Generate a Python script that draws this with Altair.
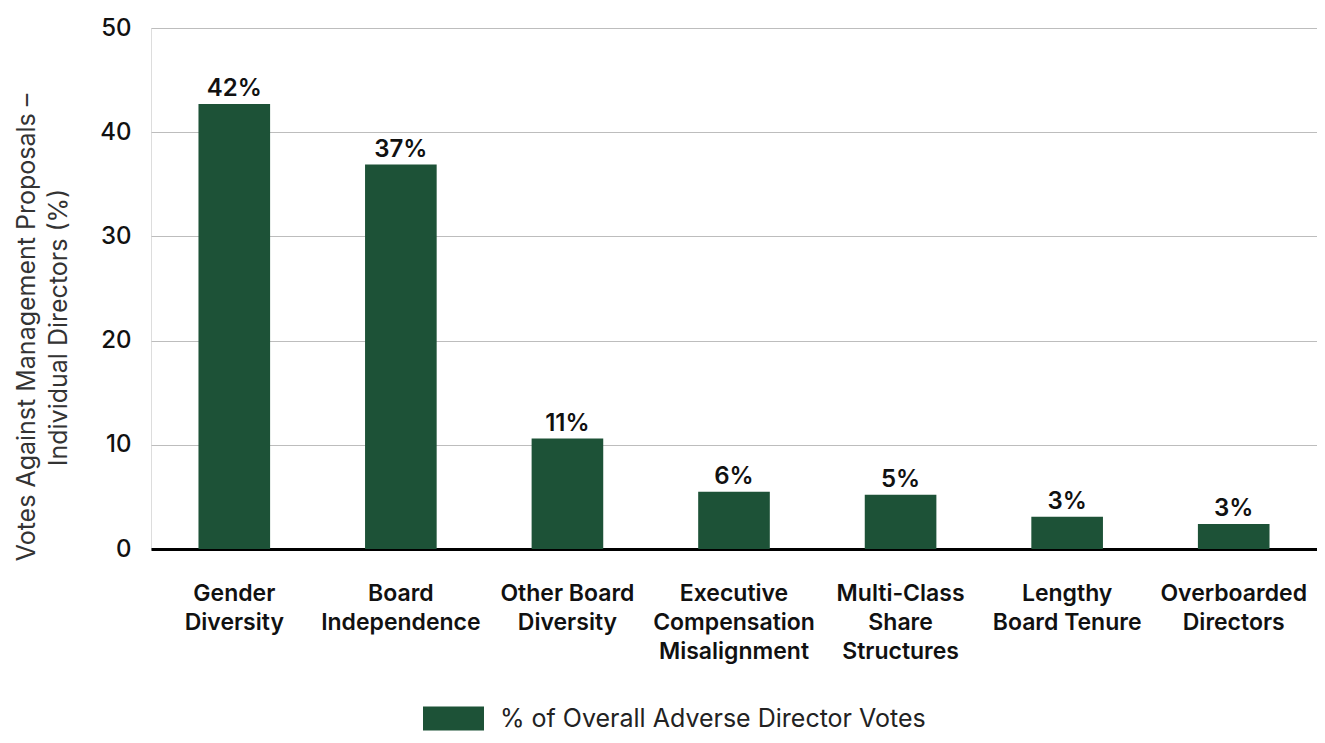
import altair as alt
import pandas as pd

# ---- data ----
label_lines = [
    ["Gender", "Diversity"],
    ["Board", "Independence"],
    ["Other Board", "Diversity"],
    ["Executive", "Compensation", "Misalignment"],
    ["Multi-Class", "Share", "Structures"],
    ["Lengthy", "Board Tenure"],
    ["Overboarded", "Directors"],
]
values = [42.7, 36.9, 10.6, 5.5, 5.2, 3.1, 2.4]
value_labels = ["42%", "37%", "11%", "6%", "5%", "3%", "3%"]
series_name = "% of Overall Adverse Director Votes"
y_ticks = [0, 10, 20, 30, 40, 50]
y_title = ["Votes Against Management Proposals \u2013", "Individual Directors (%)"]

GREEN = "#1d5237"
FONT = "Inter"

categories = ["|".join(l) for l in label_lines]
df = pd.DataFrame({
    "category": categories,
    "value": values,
    "label": value_labels,
    "series": [series_name] * len(categories),
})

x_enc = alt.X(
    "category:N",
    sort=categories,
    scale=alt.Scale(paddingInner=0.57, paddingOuter=0.285),
    axis=alt.Axis(
        title=None,
        labelExpr="split(datum.label, '|')",
        labelAngle=0,
        labelFont=FONT,
        labelFontSize=23,
        labelFontWeight=600,
        labelColor="#111111",
        labelLineHeight=29,
        labelPadding=33,
        labelBaseline="top",
        labelLimit=400,
        ticks=False,
        domain=True,
        domainColor="#000000",
        domainWidth=3,
        grid=False,
    ),
)

y_enc = alt.Y(
    "value:Q",
    scale=alt.Scale(domain=[0, 50], nice=False),
    axis=alt.Axis(
        values=y_ticks,
        grid=True,
        gridColor="#bdbdbd",
        gridWidth=1,
        domain=False,
        ticks=False,
        labelPadding=20,
        labelFont=FONT,
        labelFontSize=24,
        labelFontWeight=500,
        labelColor="#111111",
        title=y_title,
        titleFont=FONT,
        titleFontSize=25,
        titleFontWeight="normal",
        titleColor="#333333",
        titleAngle=270,
        titleAlign="center",
        titleBaseline="top",
        titleLineHeight=32,
        titleX=-137,
        titleY=299,
    ),
)

bars = alt.Chart(df).mark_bar(color=GREEN).encode(
    x=x_enc,
    y=y_enc,
    color=alt.Color(
        "series:N",
        scale=alt.Scale(domain=[series_name], range=[GREEN]),
        legend=alt.Legend(
            title=None,
            orient="none",
            legendX=272,
            legendY=660,
            symbolType="M-1,-0.39H1V0.39H-1Z",
            symbolSize=3721,
            symbolStrokeWidth=0,
            labelFont=FONT,
            labelFontSize=25,
            labelColor="#222222",
            labelOffset=16,
            labelLimit=800,
            padding=0,
        ),
    ),
)

text = alt.Chart(df).mark_text(
    baseline="alphabetic", dy=-8, font=FONT, fontSize=24, fontWeight=600, color="#111111"
).encode(
    x=alt.X("category:N", sort=categories),
    y=alt.Y("value:Q"),
    text="label:N",
)

chart = (
    alt.layer(bars, text)
    .properties(
        width=1166,
        height=521,
        autosize=alt.AutoSizeParams(type="none"),
        padding={"left": 143, "top": 20, "right": 0, "bottom": 186},
    )
    .configure_view(stroke=None)
    .configure(background="white")
)

chart.save("out.html", embed_options={"renderer": "svg", "actions": False})
